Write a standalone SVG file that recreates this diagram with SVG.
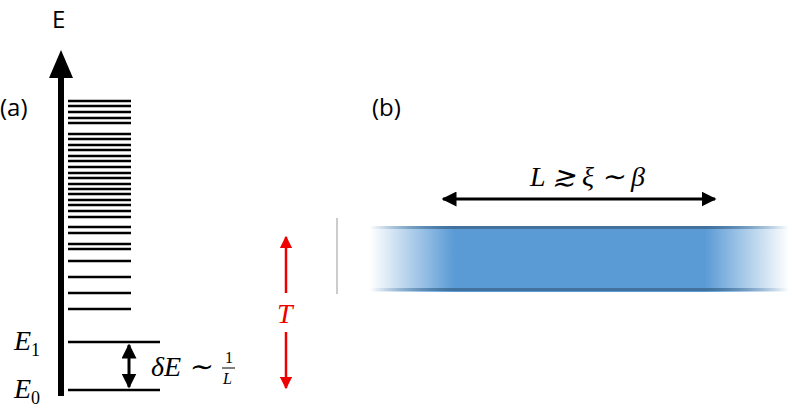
<svg xmlns="http://www.w3.org/2000/svg" width="789" height="410" viewBox="0 0 789 410">
<defs>
<style>
.t{font-family:"Open Sans","Liberation Sans",Arial,sans-serif;font-size:24px;fill:#000}
.m{font-family:"Liberation Serif","Times New Roman",serif;font-style:italic;font-size:28px}
.lv{stroke:#000;stroke-width:2.5}
</style>
<marker id="ah" viewBox="0 0 10 10" refX="9" refY="5" markerWidth="5" markerHeight="5" orient="auto-start-reverse"><path d="M0,0L10,5L0,10z" fill="#000"/></marker>
<marker id="ar" viewBox="0 0 10 10" refX="9" refY="5" markerWidth="5" markerHeight="5" orient="auto-start-reverse"><path d="M0,0L10,5L0,10z" fill="#e00"/></marker>
<linearGradient id="g" x1="370" x2="789" gradientUnits="userSpaceOnUse">
<stop offset="0" stop-color="#5b9bd5" stop-opacity="0"/>
<stop offset="0.2" stop-color="#5b9bd5" stop-opacity="1"/>
<stop offset="0.8" stop-color="#5b9bd5" stop-opacity="1"/>
<stop offset="1" stop-color="#5b9bd5" stop-opacity="0"/>
</linearGradient>
<linearGradient id="g2" x1="370" x2="789" gradientUnits="userSpaceOnUse">
<stop offset="0" stop-color="#41719c" stop-opacity="0"/>
<stop offset="0.2" stop-color="#41719c" stop-opacity="1"/>
<stop offset="0.8" stop-color="#41719c" stop-opacity="1"/>
<stop offset="1" stop-color="#41719c" stop-opacity="0"/>
</linearGradient>
</defs>
<g id="panel-a">
<text class="t" x="0" y="116">(a)</text>
<text class="t" x="52" y="28">E</text>
<line x1="61" y1="396" x2="61" y2="70" stroke="#000" stroke-width="6"/>
<path d="M49,78L61,50L73,78z" fill="#000"/>
<g class="lv">
<line x1="68" y1="101" x2="131" y2="101"/><line x1="68" y1="106" x2="131" y2="106"/><line x1="68" y1="112" x2="131" y2="112"/><line x1="68" y1="118" x2="131" y2="118"/><line x1="68" y1="123" x2="131" y2="123"/><line x1="68" y1="134" x2="131" y2="134"/><line x1="68" y1="139" x2="131" y2="139"/><line x1="68" y1="145" x2="131" y2="145"/><line x1="68" y1="150" x2="131" y2="150"/><line x1="68" y1="156" x2="131" y2="156"/><line x1="68" y1="161" x2="131" y2="161"/><line x1="68" y1="167" x2="131" y2="167"/><line x1="68" y1="173" x2="131" y2="173"/><line x1="68" y1="178" x2="131" y2="178"/><line x1="68" y1="184" x2="131" y2="184"/><line x1="68" y1="189" x2="131" y2="189"/><line x1="68" y1="194" x2="131" y2="194"/><line x1="68" y1="200" x2="131" y2="200"/><line x1="68" y1="205" x2="131" y2="205"/><line x1="68" y1="211" x2="131" y2="211"/><line x1="68" y1="217" x2="131" y2="217"/><line x1="68" y1="227" x2="131" y2="227"/><line x1="68" y1="233" x2="131" y2="233"/><line x1="68" y1="244" x2="131" y2="244"/><line x1="68" y1="249" x2="131" y2="249"/><line x1="68" y1="261" x2="131" y2="261"/><line x1="68" y1="277" x2="131" y2="277"/><line x1="68" y1="293" x2="131" y2="293"/><line x1="68" y1="309" x2="131" y2="309"/>
<line x1="68" y1="342" x2="160" y2="342"/><line x1="68" y1="390" x2="160" y2="390"/>
</g>
<text class="m" x="14" y="350">E<tspan font-size="18" font-style="normal" dy="6">1</tspan></text>
<text class="m" x="14" y="398">E<tspan font-size="18" font-style="normal" dy="6">0</tspan></text>
<text class="m" x="151" y="376">δE ∼</text>
<text x="225" y="363" font-family="Liberation Serif,serif" font-size="16">1</text>
<line x1="222" y1="368" x2="235" y2="368" stroke="#000" stroke-width="1"/>
<text x="223" y="384" font-family="Liberation Serif,serif" font-style="italic" font-size="16">L</text>
<text class="m" x="277" y="323" fill="#e00">T</text>
</g>
<g id="panel-b">
<text class="t" x="372" y="116">(b)</text>
<line x1="337" y1="218" x2="337" y2="294" stroke="#ccc" stroke-width="2"/>
<rect x="370" y="226" width="419" height="66" fill="url(#g)"/>
<rect x="370" y="226" width="419" height="3" fill="url(#g2)"/>
<rect x="370" y="288" width="419" height="3" fill="url(#g2)"/>
<text class="m" x="530" y="186">L ≳ ξ ∼ β</text>
</g>
<g id="connectors">
<line x1="443" y1="199" x2="715" y2="199" stroke="#000" stroke-width="3" marker-start="url(#ah)" marker-end="url(#ah)"/>
<line x1="129" y1="345" x2="129" y2="387" stroke="#000" stroke-width="3" marker-start="url(#ah)" marker-end="url(#ah)"/>
<line x1="286" y1="237" x2="286" y2="293" stroke="#e00" stroke-width="2.5" marker-start="url(#ar)"/>
<line x1="286" y1="332" x2="286" y2="388" stroke="#e00" stroke-width="2.5" marker-end="url(#ar)"/>
</g>
</svg>
